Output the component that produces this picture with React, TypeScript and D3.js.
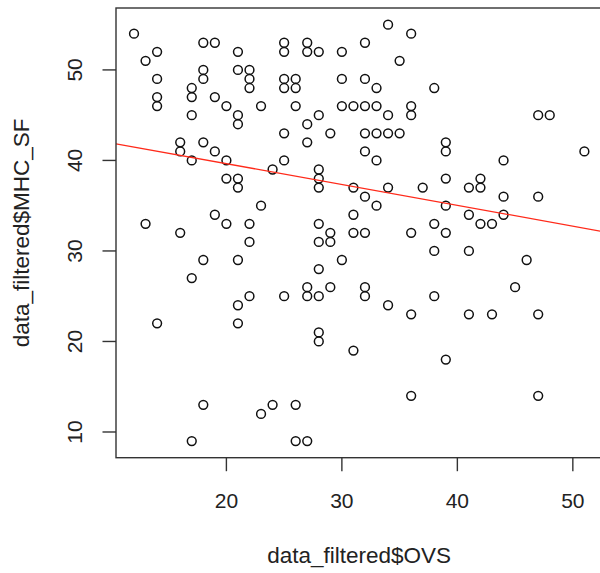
import React from "react";
import * as d3 from "d3";

// OVS (x) and MHC_SF (y) values
const ovs: number[] = [
  12, 13, 14, 14, 14, 14, 16, 16, 17, 17, 17, 17, 18, 19, 18, 18, 19, 20, 21, 21,
  22, 22, 22, 21, 21, 23, 18, 19, 20, 24, 20, 21, 21, 23, 13, 19, 20, 22, 16, 22,
  18, 21, 17, 22, 21, 14, 21, 18, 17, 23, 24, 25, 25, 27, 27, 28, 30, 32, 34, 36,
  35, 25, 25, 26, 26, 30, 32, 33, 38, 26, 28, 27, 25, 27, 29, 30, 31, 32, 33, 34,
  36, 36, 32, 33, 34, 35, 32, 33, 25, 28, 28, 28, 31, 34, 37, 32, 33, 31, 28, 29,
  29, 28, 31, 32, 36, 38, 38, 30, 28, 27, 27, 28, 29, 25, 32, 32, 34, 36, 38, 28,
  28, 31, 26, 26, 27, 36, 47, 48, 39, 39, 44, 51, 39, 42, 42, 41, 44, 47, 39, 41,
  44, 42, 43, 39, 41, 46, 45, 41, 43, 47, 39, 47,
];
const mhcSf: number[] = [
  54, 51, 52, 49, 47, 46, 42, 41, 48, 47, 45, 40, 53, 53, 50, 49, 47, 46, 52, 50,
  50, 49, 48, 45, 44, 46, 42, 41, 40, 39, 38, 38, 37, 35, 33, 34, 33, 33, 32, 31,
  29, 29, 27, 25, 24, 22, 22, 13, 9, 12, 13, 53, 52, 53, 52, 52, 52, 53, 55, 54,
  51, 49, 48, 49, 48, 49, 49, 48, 48, 46, 45, 44, 43, 42, 43, 46, 46, 46, 46, 45,
  46, 45, 43, 43, 43, 43, 41, 40, 40, 39, 38, 37, 37, 37, 37, 36, 35, 34, 33, 32,
  31, 31, 32, 32, 32, 33, 30, 29, 28, 26, 25, 25, 26, 25, 26, 25, 24, 23, 25, 21,
  20, 19, 13, 9, 9, 14, 45, 45, 42, 41, 40, 41, 38, 38, 37, 37, 36, 36, 35, 34,
  34, 33, 33, 32, 30, 29, 26, 23, 23, 23, 18, 14,
];

// fitted regression line (abline) coefficients
const fitIntercept = 44.24;
const fitSlope = -0.23;

const xTicks: number[] = [20, 30, 40, 50];
const yTicks: number[] = [10, 20, 30, 40, 50];
const xLabel = "data_filtered$OVS";
const yLabel = "data_filtered$MHC_SF";

const W = 600;
const H = 573;
const FONT = "'Liberation Sans', Arial, Helvetica, sans-serif";

function padExtent(vals: number[]): [number, number] {
  const [lo, hi] = d3.extent(vals) as [number, number];
  const p = (hi - lo) * 0.04;
  return [lo - p, hi + p];
}

export default function App() {
  const xDom = padExtent(ovs);
  const yDom = padExtent(mhcSf);
  const x = d3.scaleLinear().domain(xDom).range([116, 602.4]);
  const y = d3.scaleLinear().domain(yDom).range([457.7, 8]);

  const line = d3
    .line<number>()
    .x((d) => x(d))
    .y((d) => y(fitIntercept + fitSlope * d));

  const [x0, x1] = x.range();
  const [yb, yt] = y.range();

  return (
    <div style={{ position: "absolute", left: 0, top: 0 }}>
      <svg width={W} height={H} style={{ display: "block", background: "#fff" }}>
        <defs>
          <clipPath id="plotclip">
            <rect x={x0} y={yt} width={x1 - x0} height={yb - yt} />
          </clipPath>
        </defs>
        <g clipPath="url(#plotclip)">
          {ovs.map((v, i) => (
            <circle
              key={i}
              cx={x(v)}
              cy={y(mhcSf[i])}
              r={4.4}
              fill="none"
              stroke="#111"
              strokeWidth={1.5}
            />
          ))}
          <path
            d={line(xDom) || ""}
            fill="none"
            stroke="#ff2a1a"
            strokeWidth={1.3}
          />
        </g>
        {/* box */}
        <rect
          x={x0}
          y={yt}
          width={x1 - x0}
          height={yb - yt}
          fill="none"
          stroke="#333"
          strokeWidth={1.4}
        />
        {/* x axis */}
        {xTicks.map((t) => (
          <g key={t}>
            <line x1={x(t)} x2={x(t)} y1={yb} y2={yb + 13.5} stroke="#333" strokeWidth={1.4} />
            <text
              x={x(t)}
              y={508}
              textAnchor="middle"
              fontFamily={FONT}
              fontSize={21}
              fill="#222"
            >
              {t}
            </text>
          </g>
        ))}
        {/* y axis */}
        {yTicks.map((t) => (
          <g key={t}>
            <line x1={x0 - 13.5} x2={x0} y1={y(t)} y2={y(t)} stroke="#333" strokeWidth={1.4} />
            <text
              transform={`translate(82,${y(t)}) rotate(-90)`}
              textAnchor="middle"
              fontFamily={FONT}
              fontSize={21}
              fill="#222"
            >
              {t}
            </text>
          </g>
        ))}
        <text
          x={(x0 + x1) / 2}
          y={563}
          textAnchor="middle"
          fontFamily={FONT}
          fontSize={22.5}
          fill="#222"
        >
          {xLabel}
        </text>
        <text
          transform={`translate(28.5,${(yt + yb) / 2}) rotate(-90)`}
          textAnchor="middle"
          fontFamily={FONT}
          fontSize={22.5}
          fill="#222"
        >
          {yLabel}
        </text>
      </svg>
    </div>
  );
}
